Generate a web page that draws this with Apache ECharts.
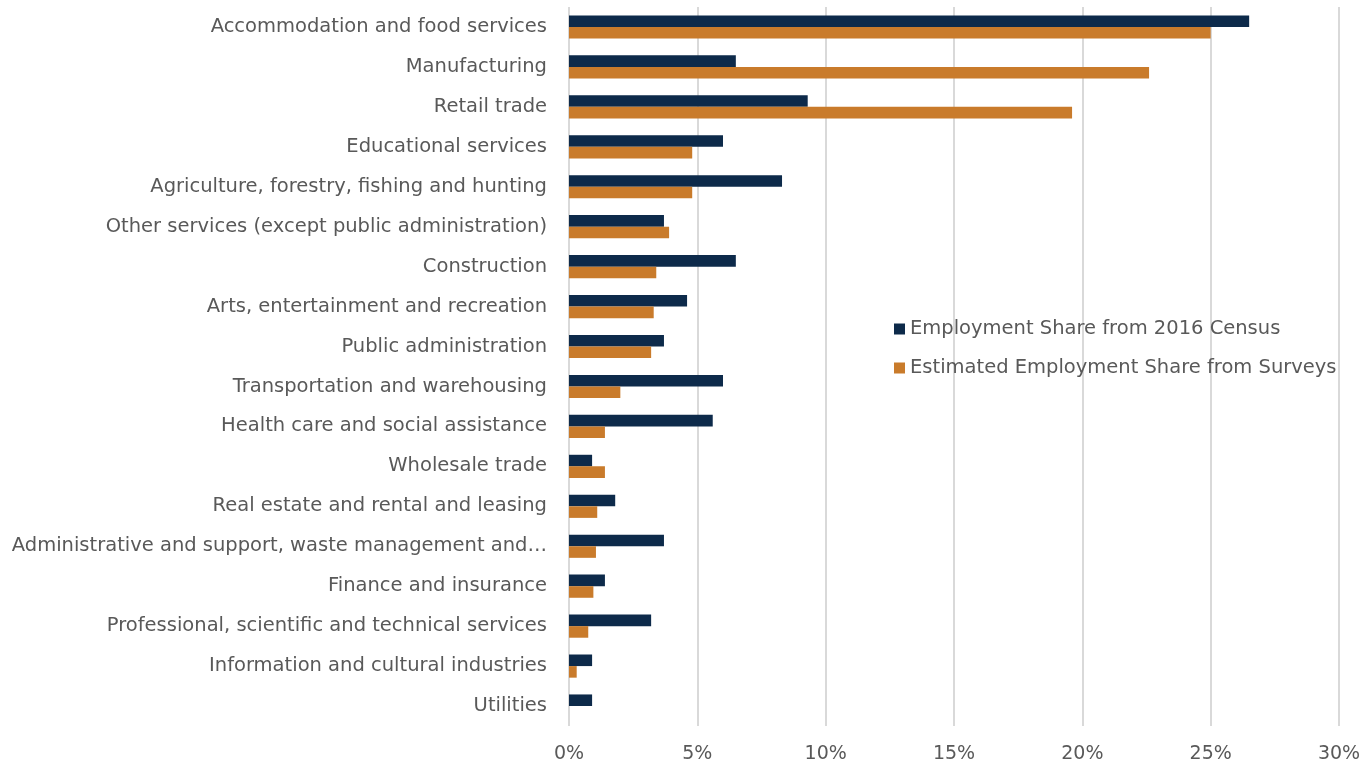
<!DOCTYPE html>
<html>
<head>
<meta charset="utf-8">
<script src="https://cdn.jsdelivr.net/npm/echarts@6/dist/echarts.min.js"></script>
<style>
  html, body { margin: 0; padding: 0; background: #ffffff; }
  #chart { width: 1368px; height: 767px; }
</style>
</head>
<body>
<div id="chart"></div>
<script>
// Industries, listed top to bottom
const industries = [
  'Accommodation and food services',
  'Manufacturing',
  'Retail trade',
  'Educational services',
  'Agriculture, forestry, fishing and hunting',
  'Other services (except public administration)',
  'Construction',
  'Arts, entertainment and recreation',
  'Public administration',
  'Transportation and warehousing',
  'Health care and social assistance',
  'Wholesale trade',
  'Real estate and rental and leasing',
  'Administrative and support, waste management and\u2026',
  'Finance and insurance',
  'Professional, scientific and technical services',
  'Information and cultural industries',
  'Utilities'
];

// Employment share (%) from the 2016 Census
const censusShare = [26.5, 6.5, 9.3, 6.0, 8.3, 3.7, 6.5, 4.6, 3.7, 6.0, 5.6, 0.9, 1.8, 3.7, 1.4, 3.2, 0.9, 0.9];

// Estimated employment share (%) from surveys
const surveyShare = [25.0, 22.6, 19.6, 4.8, 4.8, 3.9, 3.4, 3.3, 3.2, 2.0, 1.4, 1.4, 1.1, 1.05, 0.95, 0.75, 0.3, 0];

const seriesNames = ['Employment Share from 2016 Census', 'Estimated Employment Share from Surveys'];

const FONT = 'DejaVu Sans';
const TEXT = '#595959';

const chart = echarts.init(document.getElementById('chart'), null, { renderer: 'canvas' });

chart.setOption({
  animation: false,
  backgroundColor: '#ffffff',
  textStyle: { fontFamily: FONT },
  grid: { left: 569, right: 29, top: 7, bottom: 41, containLabel: false },
  legend: {
    orient: 'vertical',
    left: 889,
    top: 314,
    itemWidth: 11,
    itemHeight: 11,
    itemGap: 19,
    icon: 'rect',
    textStyle: { color: TEXT, fontSize: 19.5, fontFamily: FONT },
    data: seriesNames
  },
  xAxis: {
    type: 'value',
    min: 0,
    max: 30,
    interval: 5,
    axisLine: { show: false },
    axisTick: { show: false },
    splitLine: { show: true, lineStyle: { color: '#d9d9d9', width: 2 } },
    axisLabel: {
      color: TEXT,
      fontSize: 19,
      fontFamily: FONT,
      margin: 19,
      formatter: v => v + '%'
    }
  },
  yAxis: {
    type: 'category',
    inverse: true,
    data: industries,
    axisLine: { show: false },
    axisTick: { show: false },
    splitLine: { show: false },
    axisLabel: {
      color: TEXT,
      fontSize: 19.5,
      fontFamily: FONT,
      margin: 22
    }
  },
  series: [
    {
      name: seriesNames[0],
      type: 'bar',
      data: censusShare,
      barGap: '0%',
      barCategoryGap: '42%',
      itemStyle: { color: '#0d2a4a' }
    },
    {
      name: seriesNames[1],
      type: 'bar',
      data: surveyShare,
      barGap: '0%',
      barCategoryGap: '42%',
      itemStyle: { color: '#c97b2b' }
    }
  ]
});
</script>
</body>
</html>
